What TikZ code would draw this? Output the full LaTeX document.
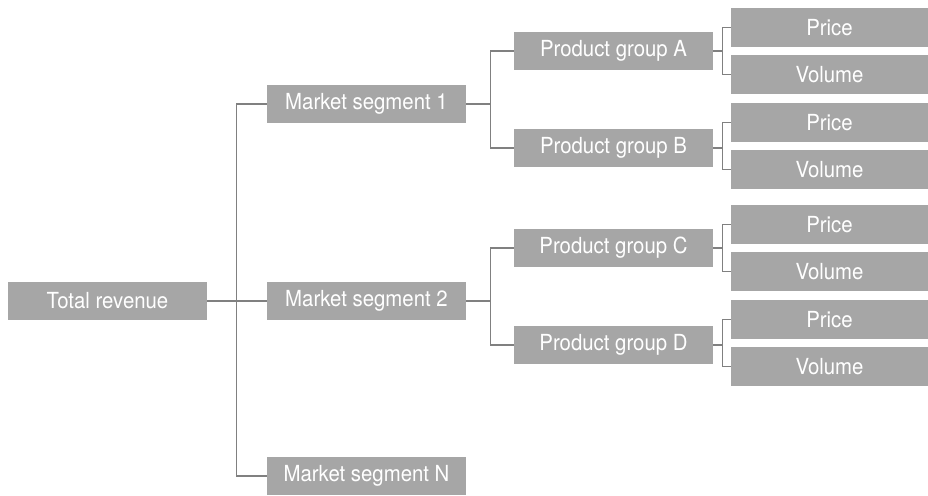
\documentclass[tikz,border=0pt]{standalone}
\usepackage{fontspec}
\setmainfont[FakeStretch=0.92]{TeX Gyre Heros}
\definecolor{boxgray}{RGB}{166,166,166}
\definecolor{linegray}{RGB}{128,128,128}

\begin{document}
\begin{tikzpicture}[
  box/.style={shape=rectangle,fill=boxgray,text=white,inner sep=0pt,
    minimum width=3.98cm,minimum height=0.76cm,font=\fontsize{12.6}{14}\selectfont},
  leaf/.style={box,minimum width=3.94cm,minimum height=0.78cm},
  link/.style={draw=linegray,line width=0.6pt}]
\useasboundingbox (0,0) rectangle (18.56,-9.9);

\node[box] (tr) at (2.15,-6.02) {Total revenue};
\node[box] (ms1) at (7.33,-2.08) {Market segment 1};
\node[box] (ms2) at (7.33,-6.02) {Market segment 2};
\node[box] (msn) at (7.33,-9.52) {Market segment N};

\node[box] (pga) at (12.27,-1.02) {Product group A};
\node[box] (pgb) at (12.27,-2.96) {Product group B};
\node[box] (pgc) at (12.27,-4.96) {Product group C};
\node[box] (pgd) at (12.27,-6.90) {Product group D};

\node[leaf] (pa) at (16.59,-0.55) {Price};
\node[leaf] (va) at (16.59,-1.49) {Volume};
\node[leaf] (pb) at (16.59,-2.45) {Price};
\node[leaf] (vb) at (16.59,-3.39) {Volume};
\node[leaf] (pc) at (16.59,-4.49) {Price};
\node[leaf] (vc) at (16.59,-5.43) {Volume};
\node[leaf] (pd) at (16.59,-6.39) {Price};
\node[leaf] (vd) at (16.59,-7.33) {Volume};

% segments
\path[link] (tr) -- (ms2);
\path[link] (ms1.west) -- ++(-0.6,0) |- (msn.west);

% product groups
\path[link] (ms1.east) -- ++(0.48,0) |- (pga.west);
\path[link] (ms1.east) -- ++(0.48,0) |- (pgb.west);
\path[link] (ms2.east) -- ++(0.48,0) |- (pgc.west);
\path[link] (ms2.east) -- ++(0.48,0) |- (pgd.west);

% price and volume
\path[link] (pga.east) -- ++(0.18,0) |- (pa.west);
\path[link] (pga.east) -- ++(0.18,0) |- (va.west);
\path[link] (pgb.east) -- ++(0.18,0) |- (pb.west);
\path[link] (pgb.east) -- ++(0.18,0) |- (vb.west);
\path[link] (pgc.east) -- ++(0.18,0) |- (pc.west);
\path[link] (pgc.east) -- ++(0.18,0) |- (vc.west);
\path[link] (pgd.east) -- ++(0.18,0) |- (pd.west);
\path[link] (pgd.east) -- ++(0.18,0) |- (vd.west);
\end{tikzpicture}
\end{document}
